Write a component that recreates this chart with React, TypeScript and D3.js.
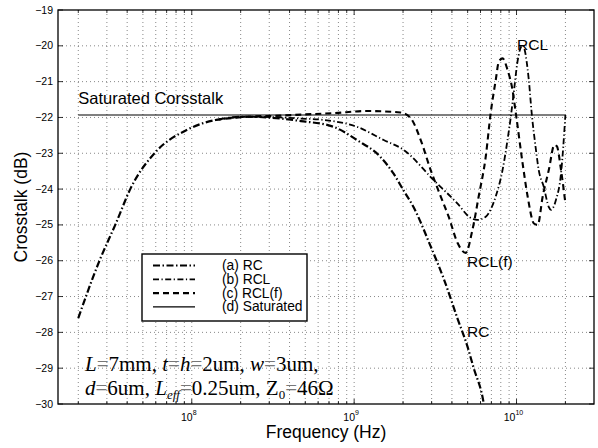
import React from 'react';
import * as d3 from 'd3';

// frequencies in Hz, crosstalk in dB
const rcFreq = [2e7, 2.7e7, 3.4e7, 4.2e7, 6e7, 9.3e7, 1.4e8, 2.2e8, 3.5e8, 4.7e8, 7.45e8, 1.04e9, 1.45e9, 1.75e9, 2.01e9, 2.32e9, 2.96e9, 3.56e9, 4.32e9, 4.99e9, 5.45e9, 6.17e9, 6.35e9];
const rcDb = [-27.6, -26.0, -24.97, -23.98, -22.96, -22.35, -22.07, -21.98, -22.03, -22.1, -22.26, -22.63, -23.1, -23.57, -24.03, -24.5, -25.6, -26.5, -27.6, -28.4, -29.0, -29.8, -30.1];

// RCL and RCL(f) follow the RC curve below ~1.4e8 Hz
const rclFreq = [1.4e8, 2.2e8, 3.5e8, 4.7e8, 6.5e8, 1.04e9, 1.52e9, 2.01e9, 3.09e9, 4.32e9, 5.2e9, 5.74e9, 6.46e9, 7.45e9, 8.2e9, 8.8e9, 9.22e9, 9.66e9, 1.01e10, 1.09e10, 1.19e10, 1.24e10, 1.31e10, 1.37e10, 1.47e10, 1.58e10, 1.63e10, 1.75e10, 1.88e10, 2e10];
const rclDb = [-22.07, -21.98, -22.0, -22.03, -22.07, -22.26, -22.63, -22.9, -23.75, -24.4, -24.8, -24.86, -24.77, -24.2, -23.47, -22.63, -21.98, -21.23, -20.49, -19.98, -20.95, -21.88, -22.82, -23.47, -23.93, -24.5, -24.58, -24.3, -23.56, -21.93];

const rclfFreq = [1.4e8, 2.2e8, 3.5e8, 4.7e8, 7.45e8, 1.2e9, 1.93e9, 2.23e9, 2.57e9, 2.96e9, 3.41e9, 3.82e9, 4.33e9, 4.86e9, 5.35e9, 5.85e9, 6.46e9, 6.93e9, 7.45e9, 7.78e9, 8.2e9, 8.8e9, 9.44e9, 9.9e9, 1.09e10, 1.17e10, 1.28e10, 1.35e10, 1.45e10, 1.58e10, 1.71e10, 1.77e10, 1.88e10, 2e10];
const rclfDb = [-22.07, -21.98, -21.95, -21.92, -21.88, -21.82, -21.86, -22.02, -22.63, -23.47, -24.2, -24.77, -25.5, -25.78, -25.14, -24.2, -23.1, -21.88, -20.95, -20.44, -20.35, -20.67, -21.23, -21.88, -23.28, -24.2, -24.96, -25.0, -24.2, -23.47, -22.77, -22.8, -23.47, -24.4];

const satFreq = [2e7, 2e10];
const satDb = [-21.93, -21.93];

const yTicks = [-30, -29, -28, -27, -26, -25, -24, -23, -22, -21, -20, -19];
const xDecades = [8, 9, 10];
const legendLabels = ['(a) RC', '(b) RCL', '(c) RCL(f)', '(d) Saturated'];

const W = 598, H = 448;
const left = 58, right = 594, top = 10, bottom = 404;
const sans = '"Liberation Sans", Arial, Helvetica, sans-serif';
const serif = '"Liberation Serif", "Times New Roman", serif';

const styles = [
  { w: 2.2, dash: '7,2.5,1.5,2.5' },
  { w: 1.8, dash: '6,2.5,1.2,2.5' },
  { w: 2.1, dash: '6,4' },
  { w: 1.1, dash: null },
];

export default function App() {
  const x = d3.scaleLog().domain([1.5e7, 3e10]).range([left, right]);
  const y = d3.scaleLinear().domain([-30, -19]).range([bottom, top]);

  const line = d3.line<[number, number]>()
    .x(d => x(d[0]))
    .y(d => y(d[1]))
    .curve(d3.curveMonotoneX);

  const series = [
    d3.zip(rcFreq, rcDb),
    d3.zip(rclFreq, rclDb),
    d3.zip(rclfFreq, rclfDb),
    d3.zip(satFreq, satDb),
  ] as [number, number][][];

  const minor = x.ticks().filter(t => t > 1.5e7 && t < 3e10);
  const major = xDecades.map(e => Math.pow(10, e));

  const eq = (k: string) => <tspan key={k} fill="#777">=</tspan>;

  return (
    <svg width={W} height={H} style={{ position: 'absolute', left: 0, top: 0, background: '#fff' }}>
      <defs>
        <clipPath id="plot">
          <rect x={left} y={top} width={right - left} height={bottom - top} />
        </clipPath>
      </defs>
      <rect x={0} y={0} width={W} height={H} fill="#fff" />

      {/* grid */}
      <g stroke="#555" strokeWidth={0.7} strokeDasharray="1,3">
        {minor.map(t => (
          <line key={'gx' + t} x1={x(t)} x2={x(t)} y1={top} y2={bottom} />
        ))}
        {yTicks.filter(t => t > -30 && t < -19).map(t => (
          <line key={'gy' + t} x1={left} x2={right} y1={y(t)} y2={y(t)} />
        ))}
      </g>

      {/* ticks */}
      <g stroke="#000" strokeWidth={0.8}>
        {minor.map(t => {
          const len = major.includes(t) ? 5 : 3;
          return (
            <g key={'tx' + t}>
              <line x1={x(t)} x2={x(t)} y1={bottom} y2={bottom - len} />
              <line x1={x(t)} x2={x(t)} y1={top} y2={top + len} />
            </g>
          );
        })}
        {yTicks.map(t => (
          <g key={'ty' + t}>
            <line x1={left} x2={left + 5} y1={y(t)} y2={y(t)} />
            <line x1={right} x2={right - 5} y1={y(t)} y2={y(t)} />
          </g>
        ))}
      </g>

      {/* curves */}
      <g clipPath="url(#plot)" fill="none" stroke="#000">
        {series.map((s, i) => (
          <path key={i} d={line(s) || ''} strokeWidth={styles[i].w}
            strokeDasharray={styles[i].dash || undefined} />
        ))}
      </g>

      <rect x={left} y={top} width={right - left} height={bottom - top} fill="none" stroke="#000" strokeWidth={1.3} />

      {/* tick labels */}
      <g fontFamily={sans} fontSize={10.5} fill="#000">
        {yTicks.map(t => (
          <text key={'ly' + t} x={left - 5} y={y(t) + 3.5} textAnchor="end">{'\u2212' + Math.abs(t)}</text>
        ))}
        {xDecades.map(e => (
          <text key={'lx' + e} x={x(Math.pow(10, e)) - 3} y={421} textAnchor="middle">
            10<tspan dy={-6} fontSize={7}>{e}</tspan>
          </text>
        ))}
      </g>

      {/* axis labels */}
      <text x={(left + right) / 2} y={438} textAnchor="middle" fontFamily={sans} fontSize={17.5}>Frequency (Hz)</text>
      <text transform={`translate(27,${(top + bottom) / 2}) rotate(-90)`} textAnchor="middle" fontFamily={sans} fontSize={17.5}>Crosstalk (dB)</text>

      {/* annotations */}
      <g fontFamily={sans} fontSize={15.5}>
        <text x={x(2e7)} y={104} fontSize={16.5}>Saturated Corsstalk</text>
        <text x={517} y={50}>RCL</text>
        <text x={467} y={267}>RCL(f)</text>
        <text x={467} y={337}>RC</text>
      </g>

      {/* legend */}
      <g>
        <rect x={142} y={254} width={165} height={67} fill="#fff" stroke="#000" strokeWidth={1.4} />
        {legendLabels.map((lab, i) => {
          const ly = 265.5 + i * 13.8;
          return (
            <g key={lab}>
              <line x1={153} x2={195} y1={ly} y2={ly} stroke="#000" strokeWidth={styles[i].w}
                strokeDasharray={styles[i].dash || undefined} />
              <text x={222} y={ly + 4.5} fontFamily={sans} fontSize={13.8}>{lab}</text>
            </g>
          );
        })}
      </g>

      {/* parameters */}
      <g fontFamily={serif} fontSize={21}>
        <text x={85} y={371}>
          <tspan fontStyle="italic">L</tspan>{eq('a')}7mm, <tspan fontStyle="italic">t</tspan>{eq('b')}
          <tspan fontStyle="italic">h</tspan>{eq('c')}2um, <tspan fontStyle="italic">w</tspan>{eq('d')}3um,
        </text>
        <text x={85} y={395}>
          <tspan fontStyle="italic">d</tspan>{eq('e')}6um, <tspan fontStyle="italic">L</tspan>
          <tspan fontStyle="italic" fontSize={13} dy={4}>eff</tspan>
          <tspan dy={-4} fill="#777">=</tspan>0.25um, Z<tspan fontSize={13} dy={4}>0</tspan>
          <tspan dy={-4} fill="#777">=</tspan>46Ω
        </text>
      </g>
    </svg>
  );
}
